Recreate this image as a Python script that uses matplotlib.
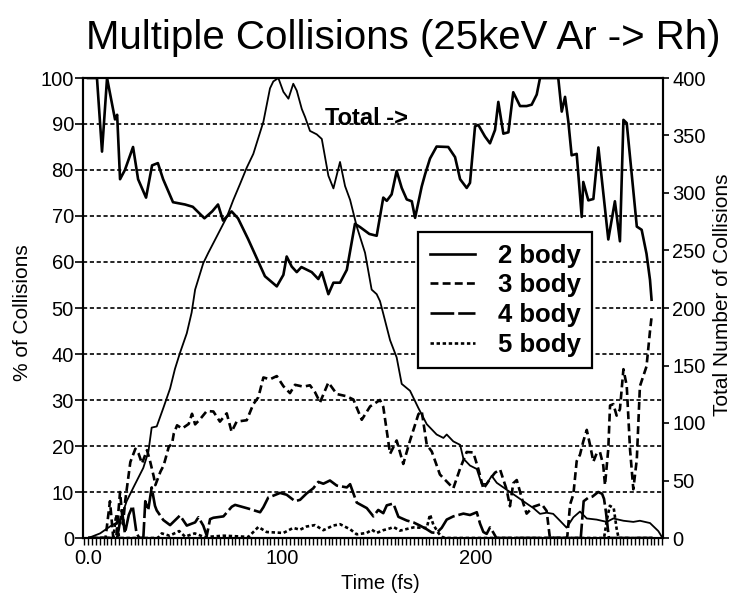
import matplotlib
matplotlib.use("Agg")
import matplotlib.pyplot as plt
from matplotlib.ticker import MultipleLocator, FixedLocator, FuncFormatter

plt.rcParams['font.family'] = ['Liberation Sans', 'DejaVu Sans']

# ---------------- data ----------------
# 2 body (% of collisions)
two_t = [0, 4.6, 7.2, 9.8, 13.9, 15, 16.5, 19, 23.2, 25.8, 29.9, 33, 36, 38.7, 43.8, 50, 54, 60,
         64, 67, 69.6, 74, 77.3, 82.5, 86.9, 91.2, 97.3, 100.7, 102.4, 105, 107.6, 110, 115.3,
         118.7, 120.5, 123.9, 126.5, 129.9, 133.4, 137.6, 140.2, 145, 148.8, 152.2, 154, 156.5,
         159.1, 161.7, 164.3, 166.9, 168.6, 172, 173.7, 176.3, 179.7, 185.7, 189.2, 191.8, 195.2,
         196.9, 199.5, 201.2, 204.6, 207.2, 209.8, 211.5, 214.1, 216.7, 219.2, 222.7, 226.1, 228.7,
         231.3, 233, 242.4, 244.2, 245.9, 247.6, 249.3, 251.9, 254.5, 255.3, 257.9, 260.5, 263.1,
         265.6, 268.2, 271.6, 274.2, 276, 277.7, 282.9, 285.4, 287.9, 289.7, 290.5]
two_v = [100, 100, 84, 100, 91, 92, 78, 80, 85, 78, 74, 81, 81.5, 78, 73, 72.5, 72, 69.5,
         71, 72.5, 69, 71, 69.5, 65, 60.9, 56.9, 54.7, 57.2, 61.2, 59, 57.8, 58.9, 57.8,
         56.3, 57.8, 53, 55.5, 55.5, 58.3, 68.3, 67.6, 66.1, 65.7, 74, 73.3, 74.7,
         79.8, 76.1, 73.6, 73.2, 69.6, 76.4, 79, 82.5, 85.1, 85, 82.8, 78, 76.1,
         77.2, 89.5, 89.8, 87.3, 85.8, 88.7, 94.8, 87.9, 88.2, 96.9, 93.9, 93.9, 94.2,
         96.4, 100, 100, 92.7, 95.9, 90.5, 83.2, 83.5, 69.8, 77.4, 73.4, 73.7, 84.9,
         75.1, 64.9, 73.2, 64.5, 90.9, 90.2, 67.7, 67, 61.8, 56.1, 51.8]

# 3 body (%)
three_t = [0, 9, 11.3, 13, 14.5, 16.5, 18, 19.2, 21.8, 24.4, 26.1, 27.8, 30.4, 32.1, 33.9, 34.7,
           37.3, 39, 41.6, 43.3, 44.2, 45.9, 48.5, 51.9, 53.6, 55.2, 57.7, 61.2, 64.6, 68, 71.5,
           74, 76.6, 81.8, 85.2, 87.8, 90.4, 93.8, 97.3, 100.7, 104.1, 106.7, 111, 114.4, 117,
           119.6, 123.9, 128.2, 133.4, 136.8, 141.1, 145.4, 150.5, 152.2, 155.7, 159.1, 162.5,
           166, 170.3, 172, 174.6, 177.2, 181.4, 188.3, 191.8, 195.2, 198.6, 201.2, 203.8, 207.2,
           209.8, 212.4, 215.8, 217.5, 219.2, 221, 224.4, 226.1, 229.6, 233.8, 236.4, 238.1, 247,
           248.5, 250.2, 251.9, 253.6, 255.3, 257.1, 258.8, 260.5, 262.2, 263.9, 265.6, 266.5,
           268.2, 269.1, 270.8, 272.5, 274.2, 276, 277.7, 279.4, 281.1, 282.9, 284.5, 287.9,
           289.7, 290.5]
three_v = [0, 0, 8, 0, 0, 10, 3, 8.2, 16.5, 19.4, 18.3, 16.2, 19.1, 16.5, 13.3, 11.5,
           14.4, 15.8, 19.8, 20.5, 22.7, 24.5, 23.8, 24.8, 27, 24.7, 25.8, 27.6, 27.5, 25.3, 27.1,
           23.1, 25.3, 25.6, 29.1, 30.6, 34.9, 34.5, 35.2, 33, 31.5, 33.3, 32.9, 33.2, 31.7,
           29.5, 33.8, 31.3, 30.8, 30.1, 25.7, 28.6, 30, 28.5, 18.3, 21.2, 16.1,
           21.2, 26.9, 27.6, 20.3, 18.8, 13.8, 10.8, 15.1, 18.7, 18.6, 15, 10.7, 12.8,
           14.2, 14.9, 10.5, 6.9, 11.9, 12.6, 7.5, 5.3, 6.8, 7.4, 5.9, 0, 0,
           7.3, 9.5, 16.7, 18.1, 21, 23.5, 20.2, 16.6, 18.4, 18.7, 15.8, 11.5,
           19.4, 28.8, 29.1, 26.6, 28, 36.7, 33.1, 19.3, 10.6, 17.1, 33, 37.3,
           45, 48]

# 4 body (%)
four_t = [0, 15, 17.5, 19, 21, 23, 25, 26.5, 28.5, 29.5, 31, 32.8, 34.5, 35.4, 38.8, 42.3, 47.4,
          50.9, 55.2, 56.9, 59.4, 61.2, 62.9, 64.6, 69.8, 74.1, 75.8, 82.6, 88.7, 90.4, 92.9,
          95.5, 99, 102.4, 106.7, 109.3, 112.7, 116.1, 118.7, 121.3, 124.7, 128.2, 133.4, 135.1,
          138.5, 143.7, 147.1, 149.6, 152.2, 154, 157.4, 160, 164.3, 167.7, 171.1, 174.6, 177.2,
          179.7, 182.3, 184.9, 188.3, 193.5, 196.9, 200.4, 202.1, 203.8, 205.5, 207.2, 208.9,
          210.5, 254, 255.5, 257.7, 260, 263, 265, 266, 267, 268.5, 291]
four_v = [0, 0, 6, 1, 5, 7, 1, 0, 0, 8, 6, 11, 7, 6, 3.9, 2.8, 4.9,
          2.7, 3.4, 4.5, 2.7, 0.5, 4.1, 4.4, 4.7, 6.8, 7.2, 6.4, 5.6, 6.7, 8.8,
          9.2, 9.8, 9.4, 8, 8.3, 9.7, 10.8, 12.2, 11.8, 12.5, 11.4, 11, 11.7,
          7.7, 6.5, 4.7, 6.1, 5.4, 7.1, 7.5, 4.6, 3.8, 3.4, 2.7, 1.9, 1.2,
          1.1, 2.2, 4, 4.7, 5.3, 5, 5.6, 3.1, 1.3, 0.9, 2.3, 1.2,
          0, 0, 8, 8.7, 9, 10, 9.6, 8.5, 5.6, 0, 0]

# 5 body (%)
five_t = [0, 13, 14.5, 16, 36, 38, 42, 47, 50, 55, 60, 70, 80, 82.6, 87.8, 92.1, 100.7, 105.8,
          109.3, 112.7, 117, 121.3, 126.4, 129.9, 135.1, 138.5, 143.7, 146.3, 148.8, 152.2, 155.7,
          157.4, 160.8, 167.7, 174.6, 176.3, 178, 180.6, 182.3, 184, 266, 267.5, 269, 271, 272.5,
          273.5, 291]
five_v = [0, 0, 5, 0, 0, 1, 0.5, 1.5, 0.3, 1, 0.2, 0.5, 0.3, 0.2, 2.4, 1.3, 1.1, 2.2,
          1.8, 2.5, 2.8, 1.7, 2.7, 3, 1.9, 0.8, 1.1, 1.8, 1.1, 1.7, 2.1,
          2.4, 1.6, 2.3, 2.2, 5.1, 2.9, 1.1, 0.3, 0, 0, 4, 7, 6.5, 2,
          0, 0]

# Total number of collisions (right axis)
tot_t = [0.2, 6.2, 11.3, 16.5, 19.9, 23.4, 28.5, 31.1, 32.8, 35.4, 38.8, 42.3, 44.8, 47.4, 50.9,
         53.4, 55.2, 59.4, 62, 66.3, 71.5, 74.9, 78.4, 81.8, 85.2, 87.8, 90.4, 93.8, 95.5, 98.1,
         100.7, 103.3, 105.8, 107.6, 110.2, 111.9, 114.4, 117.9, 120.5, 123.9, 126.5, 129.9,
         132.5, 135.1, 138.5, 142.8, 146.2, 148.8, 150.5, 152.2, 155.7, 159.1, 161.7, 166, 170.3,
         174.6, 179.7, 183.2, 184.9, 188.3, 191.8, 193.5, 196.9, 200.4, 202.9, 205.5, 208.1,
         210.7, 215.8, 221, 226.1, 229.6, 233, 236.4, 239.8, 243.3, 246.7, 250.2, 253.6, 257.1,
         262.2, 267.4, 270.8, 276, 281.1, 284.5, 289.7, 294, 295.8]
tot_n = [0, 4, 10, 15, 32, 44, 61, 75, 96, 97, 113, 130, 147, 161, 178,
         196, 216, 239, 248, 262, 279, 294, 308, 322, 334, 348, 362, 391, 397, 400,
         388, 382, 395, 389, 373, 366, 354, 351, 347, 315, 304, 327,
         306, 294, 271, 248, 216, 212, 206, 195, 172, 157, 134, 128, 113,
         99, 90, 87, 90, 84, 81, 69, 63, 60, 47, 47, 54,
         48, 42, 36, 30, 26, 21, 22, 21, 15, 9, 18, 23, 17,
         16, 14, 17, 15, 14, 15, 13, 6, 1]

series_labels = ["2 body", "3 body", "4 body", "5 body"]
x_tick_vals = [0, 100, 200]
x_tick_text = ["0.0", "100", "200"]

# ---------------- figure ----------------
fig = plt.figure(figsize=(7.37, 5.95), dpi=100)
ax = fig.add_axes([83/737, 1-538/595, 580/737, 460/595])
ax2 = ax.twinx()

ax.set_xlim(-2.6, 296.4)
ax.set_ylim(0, 100)
ax2.set_ylim(0, 400)

# grid lines
for yv in range(10, 100, 10):
    ax.axhline(yv, color='black', lw=1.2, ls=(0, (2.5, 1.6)), zorder=1)

l2, = ax.plot(two_t, two_v, color='black', lw=1.9, ls='-', zorder=3)
l3, = ax.plot(three_t, three_v, color='black', lw=1.9, ls=(0, (3.0, 1.6)), zorder=3)
l4, = ax.plot(four_t, four_v, color='black', lw=1.9, ls=(0, (9, 1.5)), zorder=3)
l5, = ax.plot(five_t, five_v, color='black', lw=1.9, ls=(0, (1.3, 1.0)), zorder=3)
ax2.plot(tot_t, tot_n, color='black', lw=1.3, ls='-', zorder=3)

for a in (ax, ax2):
    for s in a.spines.values():
        s.set_linewidth(1.5)
        s.set_color('black')

# ticks
ax.yaxis.set_major_locator(MultipleLocator(10))
ax.tick_params(axis='y', direction='out', length=5.5, width=1.2, pad=1,
               labelsize=14.5)
ax2.yaxis.set_major_locator(MultipleLocator(50))
ax2.tick_params(axis='y', direction='out', length=4.5, width=1.2, pad=2,
                labelsize=14.5)
ax.xaxis.set_major_locator(FixedLocator(x_tick_vals))
ax.xaxis.set_major_formatter(FuncFormatter(lambda v, p: x_tick_text[x_tick_vals.index(int(round(v)))]
                                           if int(round(v)) in x_tick_vals else ""))
ax.xaxis.set_minor_locator(MultipleLocator(2))
ax.tick_params(axis='x', which='both', direction='out', length=4.8, width=1.0, pad=3,
               labelsize=14.5)

# labels
ax.text(-0.105, 0.491, "% of Collisions", transform=ax.transAxes, rotation=90,
        ha='center', va='center', fontsize=15)
ax.text(1.102, 0.528, "Total Number of Collisions", transform=ax.transAxes, rotation=90,
        ha='center', va='center', fontsize=15)
ax.text(0.512, -0.098, "Time (fs)", transform=ax.transAxes,
        ha='center', va='center', fontsize=14.5)
fig.text(403/737, 1-38/595, "Multiple Collisions (25keV Ar -> Rh)",
         ha='center', va='center', fontsize=29)

ax.text(122, 91.3, "Total ->", ha='left', va='center', fontsize=17, fontweight='bold',
        zorder=4)

leg = ax.legend([l2, l3, l4, l5], series_labels, loc='upper left',
                bbox_to_anchor=(0.578, 0.665), borderaxespad=0, fancybox=False,
                framealpha=1, edgecolor='black',
                prop={'weight': 'bold', 'size': 18.5}, handlelength=1.75,
                handletextpad=0.9, labelspacing=0.22, borderpad=0.45)
leg.get_frame().set_linewidth(1.6)
leg.set_zorder(5)
ax.set_zorder(ax2.get_zorder() + 1)
ax.patch.set_visible(False)

fig.savefig("out.png", dpi=100)
